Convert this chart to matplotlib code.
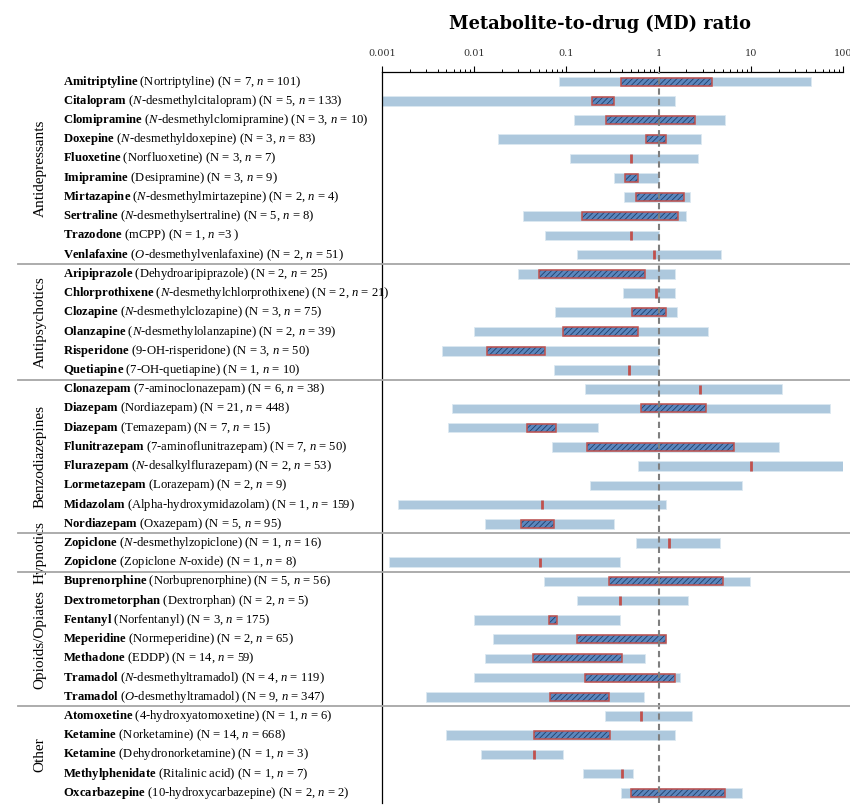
import matplotlib
matplotlib.use("Agg")
import matplotlib.pyplot as plt
import matplotlib.transforms as mtransforms
from matplotlib.lines import Line2D

plt.rcParams['font.family'] = 'Liberation Serif'
plt.rcParams['mathtext.fontset'] = 'custom'
plt.rcParams['mathtext.rm'] = 'Liberation Serif'
plt.rcParams['mathtext.it'] = 'Liberation Serif:italic'
plt.rcParams['mathtext.bf'] = 'Liberation Serif:bold'
plt.rcParams['hatch.linewidth'] = 0.6

# drug, metabolite, N, n
drugs = ['Amitriptyline', 'Citalopram', 'Clomipramine', 'Doxepine', 'Fluoxetine', 'Imipramine',
         'Mirtazapine', 'Sertraline', 'Trazodone', 'Venlafaxine',
         'Aripiprazole', 'Chlorprothixene', 'Clozapine', 'Olanzapine', 'Risperidone', 'Quetiapine',
         'Clonazepam', 'Diazepam', 'Diazepam', 'Flunitrazepam', 'Flurazepam', 'Lormetazepam',
         'Midazolam', 'Nordiazepam',
         'Zopiclone', 'Zopiclone',
         'Buprenorphine', 'Dextrometorphan', 'Fentanyl', 'Meperidine', 'Methadone', 'Tramadol', 'Tramadol',
         'Atomoxetine', 'Ketamine', 'Ketamine', 'Methylphenidate', 'Oxcarbazepine']
metabolites = ['Nortriptyline', '$\\mathit{N}$-desmethylcitalopram', '$\\mathit{N}$-desmethylclomipramine',
               '$\\mathit{N}$-desmethyldoxepine', 'Norfluoxetine', 'Desipramine',
               '$\\mathit{N}$-desmethylmirtazepine', '$\\mathit{N}$-desmethylsertraline', 'mCPP',
               '$\\mathit{O}$-desmethylvenlafaxine',
               'Dehydroaripiprazole', '$\\mathit{N}$-desmethylchlorprothixene', '$\\mathit{N}$-desmethylclozapine',
               '$\\mathit{N}$-desmethylolanzapine', '9-OH-risperidone', '7-OH-quetiapine',
               '7-aminoclonazepam', 'Nordiazepam', 'Temazepam', '7-aminoflunitrazepam',
               '$\\mathit{N}$-desalkylflurazepam', 'Lorazepam', 'Alpha-hydroxymidazolam', 'Oxazepam',
               '$\\mathit{N}$-desmethylzopiclone', 'Zopiclone $\\mathit{N}$-oxide',
               'Norbuprenorphine', 'Dextrorphan', 'Norfentanyl', 'Normeperidine', 'EDDP',
               '$\\mathit{N}$-desmethyltramadol', '$\\mathit{O}$-desmethyltramadol',
               '4-hydroxyatomoxetine', 'Norketamine', 'Dehydronorketamine', 'Ritalinic acid',
               '10-hydroxycarbazepine']
N_subj = [7, 5, 3, 3, 3, 3, 2, 5, 1, 2,
          2, 2, 3, 2, 3, 1,
          6, 21, 7, 7, 2, 2, 1, 5,
          1, 1,
          5, 2, 3, 2, 14, 4, 9,
          1, 14, 1, 1, 2]
n_samp = [101, 133, 10, 83, 7, 9, 4, 8, 3, 51,
          25, 21, 75, 39, 50, 10,
          38, 448, 15, 50, 53, 9, 159, 95,
          16, 8,
          56, 5, 175, 65, 59, 119, 347,
          6, 668, 3, 7, 2]

# MD ratio: min, max, lower/upper quartile, median (None = not drawn)
ratio_min = [0.084, 0.001, 0.12, 0.018, 0.11, 0.33, 0.42, 0.034, 0.059, 0.13,
             0.030, 0.41, 0.075, 0.010, 0.0045, 0.074,
             0.16, 0.0057, 0.0052, 0.069, 0.60, 0.18, 0.0015, 0.013,
             0.57, 0.0012,
             0.057, 0.13, 0.010, 0.016, 0.013, 0.010, 0.0030,
             0.26, 0.0050, 0.012, 0.15, 0.39]
ratio_max = [45, 1.49, 5.2, 2.9, 2.7, 1.0, 2.2, 2.0, 1.0, 4.8,
             1.49, 1.49, 1.58, 3.4, 1.0, 1.0,
             22, 73, 0.22, 20, 100, 8.0, 1.2, 0.33,
             4.6, 0.38,
             9.9, 2.1, 0.38, 1.21, 0.72, 1.69, 0.69,
             2.3, 1.49, 0.093, 0.53, 8.1]
ratio_q1 = [0.39, 0.19, 0.27, 0.73, None, 0.43, 0.57, 0.149, None, None,
            0.050, None, 0.51, 0.092, 0.0137, None,
            None, 0.65, 0.037, 0.168, None, None, None, 0.032,
            None, None,
            0.29, None, 0.064, 0.13, 0.043, 0.16, 0.067,
            None, 0.044, None, None, 0.50]
ratio_q3 = [3.8, 0.33, 2.5, 1.2, None, 0.60, 1.9, 1.62, None, None,
            0.72, None, 1.2, 0.60, 0.058, None,
            None, 3.3, 0.077, 6.5, None, None, None, 0.074,
            None, None,
            5.0, None, 0.080, 1.21, 0.40, 1.50, 0.29,
            None, 0.30, None, None, 5.3]
ratio_med = [None, None, None, None, 0.50, None, None, None, 0.50, 0.90,
             None, 0.93, None, None, None, 0.48,
             2.8, None, None, None, 10, None, 0.055, None,
             1.29, 0.052,
             None, 0.38, None, None, None, None, None,
             0.65, None, 0.044, 0.40, None]

groups = ['Antidepressants', 'Antipsychotics', 'Benzodiazepines', 'Hypnotics', 'Opioids/Opiates', 'Other']
group_sizes = [10, 6, 8, 2, 7, 5]

tick_vals = [0.001, 0.01, 0.1, 1, 10, 100]
tick_labels = ['0.001', '0.01', '0.1', '1', '10', '100']

fig = plt.figure(figsize=(8.5, 8.09), dpi=100)
ax = fig.add_axes([0.4494, 0.008, 0.5424, 0.903])

y = list(range(len(drugs)))
light = '#adc8dd'
red = '#c0504d'

ax.barh(y, [hi - lo for lo, hi in zip(ratio_min, ratio_max)], left=ratio_min,
        height=0.5, color=light, edgecolor='#dce8f1', linewidth=0.6, zorder=2)

for i in y:
    if ratio_q1[i] is not None:
        w = ratio_q3[i] - ratio_q1[i]
        ax.barh(i, w, left=ratio_q1[i], height=0.42, color='#5b86bd',
                edgecolor='#203f6b', linewidth=0, hatch='//////', zorder=3)
        ax.barh(i, w, left=ratio_q1[i], height=0.42, fill=False,
                edgecolor=red, linewidth=1.1, zorder=4)
    if ratio_med[i] is not None:
        ax.vlines(ratio_med[i], i - 0.24, i + 0.24, color=red, lw=2, zorder=4)

ax.axvline(1, color='#7f7f7f', lw=1.5, ls=(0, (3, 2)), zorder=5)

ax.set_xscale('log')
ax.set_xlim(0.001, 100)
ax.set_ylim(len(drugs) - 0.5, -0.5)
ax.xaxis.tick_top()
ax.set_xticks(tick_vals)
ax.set_xticklabels(tick_labels, fontsize=7, color='#333333', fontfamily='DejaVu Serif')
ax.tick_params(axis='x', which='major', direction='out', length=4, width=0.8, pad=6)
ax.tick_params(axis='x', which='minor', direction='out', length=2, width=0.7)
ax.set_yticks([])
for s in ['right', 'bottom']:
    ax.spines[s].set_visible(False)
ax.spines['top'].set_linewidth(0.9)
ax.spines['left'].set_linewidth(0.9)

# row labels
trans = mtransforms.blended_transform_factory(fig.transFigure, ax.transData)
for i in y:
    label = '$\\mathbf{%s}$ (%s) (N = %d, $\\mathit{n}$ = %d)' % (drugs[i], metabolites[i], N_subj[i], n_samp[i])
    if drugs[i] == 'Trazodone':
        label = '$\\mathbf{Trazodone}$ (mCPP) (N = 1, $\\mathit{n}$ =3 )'
    ax.text(0.074, i, label, transform=trans, ha='left', va='center', fontsize=9.1, clip_on=False)

# group labels and separators
start = 0
for g, size in zip(groups, group_sizes):
    ax.text(0.047, start + (size - 1) / 2, g, transform=trans, rotation=90,
            ha='center', va='center', fontsize=11, clip_on=False)
    start += size
    if start < len(drugs):
        ln = Line2D([0.021, 1.0], [start - 0.5, start - 0.5], transform=trans,
                    color='#a6a6a6', lw=1.3, zorder=1)
        fig.add_artist(ln)

fig.text(0.706, 0.971, 'Metabolite-to-drug (MD) ratio', ha='center', va='center',
         fontsize=12.8, fontweight='bold', fontfamily='DejaVu Serif')

fig.savefig('out.png', dpi=100)
